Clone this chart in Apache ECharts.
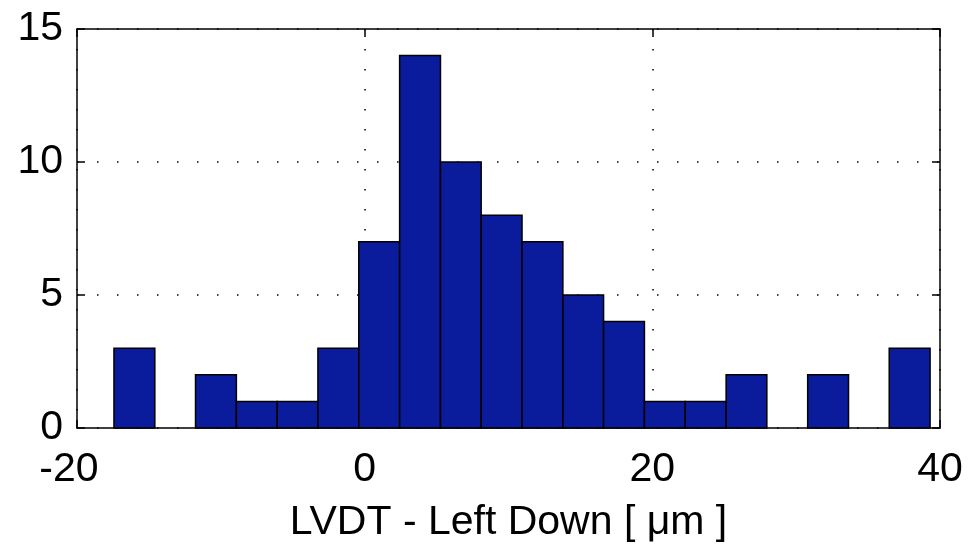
<!DOCTYPE html>
<html>
<head>
<meta charset="utf-8">
<script src="https://cdn.jsdelivr.net/npm/echarts@6/dist/echarts.min.js"></script>
<style>
html,body{margin:0;padding:0;background:#fff;}
#chart{width:971px;height:548px;}
</style>
</head>
<body>
<div id="chart"></div>
<script>
const binEdges = [-17.43, -14.59, -11.76, -8.92, -6.08, -3.25, -0.41, 2.43, 5.27, 8.10, 10.94, 13.78, 16.61, 19.45, 22.29, 25.13, 27.96, 30.80, 33.64, 36.47, 39.31];
const counts = [3, 0, 2, 1, 1, 3, 7, 14, 10, 8, 7, 5, 4, 1, 1, 2, 0, 2, 0, 3];
const xTicks = [-20, 0, 20, 40];
const yTicks = [0, 5, 10, 15];
const xTitle = 'LVDT - Left Down [ μm ]';

const data = [];
for (let i = 0; i < counts.length; i++) {
  if (counts[i] > 0) data.push([binEdges[i], binEdges[i + 1], counts[i]]);
}

const FONT = 'Liberation Sans';
const FS = 41;
const chart = echarts.init(document.getElementById('chart'), null, {renderer: 'canvas'});
const axisLine = {show: true, onZero: false, lineStyle: {color: '#000', width: 1.5}};
const tick = {show: true, inside: true, length: 8, lineStyle: {color: '#000', width: 1.5}};
const dotted = {show: true, lineStyle: {color: '#000', width: 1.5, type: [1.5, 18.5]}};

chart.setOption({
  animation: false,
  backgroundColor: '#fff',
  grid: {left: 77, right: 31, top: 29, bottom: 118, containLabel: false},
  xAxis: [{
    type: 'value', min: xTicks[0], max: xTicks[xTicks.length - 1], interval: 20,
    position: 'bottom',
    axisLine: axisLine, axisTick: tick, splitLine: dotted,
    axisLabel: {
      show: true, margin: 21, color: '#000', fontFamily: FONT, fontSize: FS,
      formatter: function (v) { return v < 0 ? '{neg|' + v + '}' : String(v); },
      rich: {neg: {color: '#000', fontFamily: FONT, fontSize: FS, padding: [0, 16, 0, 0]}}
    },
    name: xTitle, nameLocation: 'middle', nameGap: 74,
    nameTextStyle: {color: '#000', fontFamily: FONT, fontSize: FS}
  }, {
    type: 'value', min: xTicks[0], max: xTicks[xTicks.length - 1], interval: 20,
    position: 'top',
    axisLine: axisLine, axisTick: tick, splitLine: {show: false},
    axisLabel: {show: false}
  }],
  yAxis: [{
    type: 'value', min: yTicks[0], max: yTicks[yTicks.length - 1], interval: 5,
    position: 'left',
    axisLine: axisLine, axisTick: tick, splitLine: dotted,
    axisLabel: {show: true, margin: 14, color: '#000', fontFamily: FONT, fontSize: FS}
  }, {
    type: 'value', min: yTicks[0], max: yTicks[yTicks.length - 1], interval: 5,
    position: 'right',
    axisLine: axisLine, axisTick: tick, splitLine: {show: false},
    axisLabel: {show: false}
  }],
  series: [{
    type: 'custom',
    xAxisIndex: 0, yAxisIndex: 0,
    data: data,
    encode: {x: [0, 1], y: 2},
    renderItem: function (params, api) {
      const p0 = api.coord([api.value(0), api.value(2)]);
      const p1 = api.coord([api.value(1), 0]);
      return {
        type: 'rect',
        shape: {x: p0[0], y: p0[1], width: p1[0] - p0[0], height: p1[1] - p0[1]},
        style: {fill: '#0a1c9c', stroke: '#000', lineWidth: 1.5}
      };
    }
  }]
});
</script>
</body>
</html>
